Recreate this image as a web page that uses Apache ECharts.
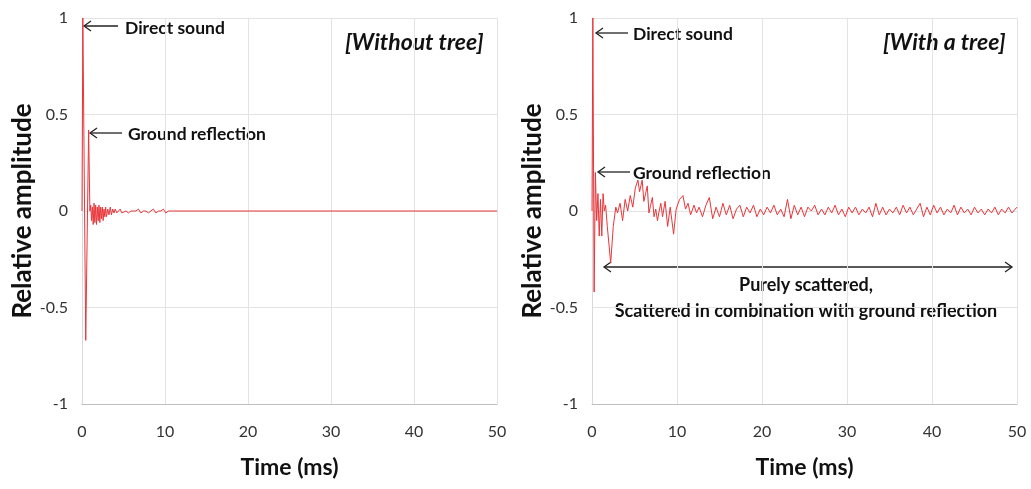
<!DOCTYPE html>
<html>
<head>
<meta charset="utf-8">
<script src="https://cdn.jsdelivr.net/npm/echarts@6/dist/echarts.min.js"></script>
<style>
html,body{margin:0;padding:0;background:#fff;}
#c{width:1031px;height:489px;}
</style>
</head>
<body>
<div id="c"></div>
<script>
// ---------- DATA ----------
const xTicks = [0, 10, 20, 30, 40, 50];
const yTicks = [-1, -0.5, 0, 0.5, 1];

// Left panel: without tree (time in ms, relative amplitude)
const timeNoTree = [0, 0.1, 0.45, 0.8, 0.95, 1.05, 1.15, 1.25, 1.35, 1.45, 1.55, 1.65, 1.75, 1.85, 1.95, 2.05, 2.15, 2.25, 2.35, 2.45, 2.55, 2.65, 2.75, 2.85, 2.95, 3.1, 3.25, 3.4, 3.55, 3.7, 3.85, 4.0, 4.2, 4.4, 4.6, 4.8, 5.0, 5.3, 5.6, 5.9, 6.2, 6.5, 6.8, 7.1, 7.4, 7.7, 8.0, 8.3, 8.6, 8.9, 9.2, 9.5, 9.8, 10.1, 10.4, 10.7, 11.0, 50];
const ampNoTree  = [0, 1.0, -0.67, 0.42, 0.0, 0.03, -0.05, 0.02, -0.07, 0.04, -0.06, 0.03, -0.07, 0.02, -0.05, 0.03, -0.06, 0.02, -0.04, 0.02, -0.05, 0.01, -0.03, 0.02, -0.03, 0.01, -0.02, 0.02, -0.02, 0.01, -0.01, 0.01, -0.01, 0.0, 0.01, -0.01, 0.0, 0.0, -0.01, 0.0, 0.0, 0.0, 0.01, -0.01, 0.0, 0.0, -0.01, 0.0, 0.01, -0.01, 0.0, 0.0, 0.01, -0.01, 0.0, 0.0, 0.0, 0.0];

// Right panel: with a tree
const timeTree = [0, 0.1, 0.25, 0.4, 0.55, 0.7, 0.85, 1.0, 1.15, 1.3, 1.45, 1.6, 1.8, 2.2, 2.5, 2.8, 3.0, 3.3, 3.6, 3.9, 4.2, 4.5, 4.8, 5.1, 5.4, 5.6, 5.9, 6.1, 6.3, 6.5, 6.7, 6.9, 7.1, 7.3, 7.5, 7.7, 7.9, 8.1, 8.3, 8.6, 8.9, 9.2, 9.4, 9.6, 9.9, 10.3, 10.7, 11.0, 11.3, 11.6, 12.0, 12.3, 12.6,
  13.0, 13.4, 13.8, 14.2, 14.6, 15.0, 15.4, 15.8, 16.2, 16.6, 17.0, 17.4, 17.8, 18.2, 18.6, 19.0, 19.4, 19.8, 20.2, 20.6, 21.0, 21.4, 21.8, 22.2, 22.6, 23.0, 23.4, 23.8, 24.2, 24.6, 25.0, 25.4, 25.8, 26.2, 26.6, 27.0, 27.4, 27.8, 28.2, 28.6, 29.0, 29.4, 29.8, 30.2, 30.6, 31.0, 31.4, 31.8, 32.2, 32.6, 33.0, 33.4, 33.8, 34.2, 34.6, 35.0, 35.4, 35.8, 36.2, 36.6, 37.0, 37.4, 37.8, 38.2, 38.6, 39.0, 39.4, 39.8, 40.2, 40.6, 41.0, 41.4, 41.8, 42.2, 42.6, 43.0, 43.4, 43.8, 44.2, 44.6, 45.0, 45.4, 45.8, 46.2, 46.6, 47.0, 47.4, 47.8, 48.2, 48.6, 49.0, 49.4, 49.8, 50.0];
const ampTree  = [0, 1.0, -0.42, 0.2, -0.05, 0.09, -0.13, 0.06, -0.13, 0.09, 0.0, 0.03, -0.08, -0.27, -0.08, 0.02, -0.01, 0.04, -0.05, 0.06, 0.0, 0.08, 0.02, 0.12, 0.16, 0.10, 0.16, 0.05, 0.09, 0.13, -0.01, 0.03, 0.07, -0.03, 0.01, -0.05, 0.0, 0.04, -0.03, 0.05, -0.08, 0.02, -0.05, -0.12, 0.01, 0.06, 0.08, 0.01, 0.04, -0.02, 0.03, -0.01, 0.02,
  -0.03, 0.03, 0.07, -0.04, 0.02, -0.03, 0.04, -0.02, 0.03, -0.04, 0.01, 0.03, -0.03, 0.02, -0.01, 0.03, -0.03, 0.01, -0.02, 0.02, -0.01, 0.03, -0.02, 0.01, -0.03, 0.06, -0.04, 0.03, -0.02, 0.02, -0.03, 0.02, 0.0, 0.03, -0.02, 0.01, -0.02, 0.02, -0.01, 0.03, -0.02, 0.01, -0.03, 0.02, -0.01, 0.02, -0.02, 0.01, -0.01, 0.02, -0.03, 0.04, -0.02, 0.02, -0.02, 0.01, -0.01, 0.02, -0.02, 0.03, -0.01, 0.02, -0.02, 0.01, 0.04, -0.03, 0.02, -0.02, 0.03, -0.01, 0.02, -0.02, 0.01, -0.01, 0.03, -0.02, 0.02, -0.01, 0.01, -0.02, 0.02, -0.01, 0.01, -0.02, 0.01, -0.01, 0.02, -0.02, 0.01, -0.01, 0.02, -0.01, 0.01, 0.02];

// ---------- CHART ----------
const pair = (ts, vs) => ts.map((t, i) => [t, vs[i]]);
const RED = '#e8363a';
const GRIDC = '#e3e3e3';
const TEXTC = '#333333';
const ANNF = 'Lato';

function xAxisCfg(gi) {
  return {
    gridIndex: gi, type: 'value', min: 0, max: 50, interval: 10,
    name: 'Time (ms)', nameLocation: 'middle', nameGap: 52,
    nameTextStyle: { fontFamily: ANNF, fontWeight: 'bold', fontSize: 23, color: '#111' },
    axisLine: { onZero: false, lineStyle: { color: '#bfbfbf', width: 1 } },
    axisTick: { show: false },
    axisLabel: { margin: 20, fontFamily: ANNF, fontSize: 16, color: TEXTC,
      formatter: v => xTicks.includes(v) ? String(v) : '' },
    splitLine: { show: true, lineStyle: { color: GRIDC, width: 1 } }
  };
}
function yAxisCfg(gi) {
  return {
    gridIndex: gi, type: 'value', min: -1, max: 1, interval: 0.5,
    name: 'Relative amplitude', nameLocation: 'middle', nameGap: 42,
    nameTextStyle: { fontFamily: ANNF, fontWeight: 'bold', fontSize: 26, color: '#111' },
    axisLine: { show: true, lineStyle: { color: '#d9d9d9', width: 1 } },
    axisTick: { show: false },
    axisLabel: { margin: 14, fontFamily: ANNF, fontSize: 16, color: TEXTC,
      formatter: v => yTicks.includes(v) ? String(v) : '' },
    splitLine: { show: true, lineStyle: { color: GRIDC, width: 1 } }
  };
}

function arrowLeft(x1, x2, y) {
  return [
    { type: 'line', shape: { x1: x1, y1: y, x2: x2, y2: y }, style: { stroke: '#222', lineWidth: 1.3 } },
    { type: 'polyline', shape: { points: [[x1 + 7, y - 5], [x1, y], [x1 + 7, y + 5]] }, style: { stroke: '#222', lineWidth: 1.3, fill: null } }
  ];
}
function txt(x, y, s, opts) {
  return Object.assign({ type: 'text', x: x, y: y,
    style: Object.assign({ text: s, fontFamily: ANNF, fontWeight: 'bold', fontSize: 17.5, fill: '#111', textVerticalAlign: 'middle' }, (opts || {})) });
}

const graphics = [].concat(
  arrowLeft(84, 118, 26), [txt(125, 28, 'Direct sound')],
  arrowLeft(90, 122, 133), [txt(128, 134, 'Ground reflection')],
  [txt(345, 43, '[Without tree]', { fontStyle: 'italic', fontSize: 23 })],
  arrowLeft(596, 628, 33), [txt(633, 34, 'Direct sound')],
  arrowLeft(598, 630, 172), [txt(633, 173, 'Ground reflection')],
  [txt(883, 43, '[With a tree]', { fontStyle: 'italic', fontSize: 23 })],
  arrowLeft(604, 1012, 267),
  [{ type: 'polyline', shape: { points: [[1005, 262], [1012, 267], [1005, 272]] }, style: { stroke: '#222', lineWidth: 1.3, fill: null } }],
  [txt(806, 285, 'Purely scattered,', { textAlign: 'center', fontSize: 18 })],
  [txt(806, 311, 'Scattered in combination with ground reflection', { textAlign: 'center', fontSize: 18 })]
);

const chart = echarts.init(document.getElementById('c'), null, { renderer: 'canvas' });
chart.setOption({
  backgroundColor: '#fff',
  animation: false,
  grid: [
    { left: 82, top: 18, width: 415, height: 386 },
    { left: 592, top: 18, width: 425, height: 386 }
  ],
  xAxis: [xAxisCfg(0), xAxisCfg(1)],
  yAxis: [yAxisCfg(0), yAxisCfg(1)],
  series: [
    { type: 'line', xAxisIndex: 0, yAxisIndex: 0, data: pair(timeNoTree, ampNoTree), showSymbol: false, lineStyle: { color: RED, width: 1 }, z: 5 },
    { type: 'line', xAxisIndex: 1, yAxisIndex: 1, data: pair(timeTree, ampTree), showSymbol: false, lineStyle: { color: RED, width: 1 }, z: 5 }
  ],
  graphic: graphics
});
</script>
</body>
</html>
